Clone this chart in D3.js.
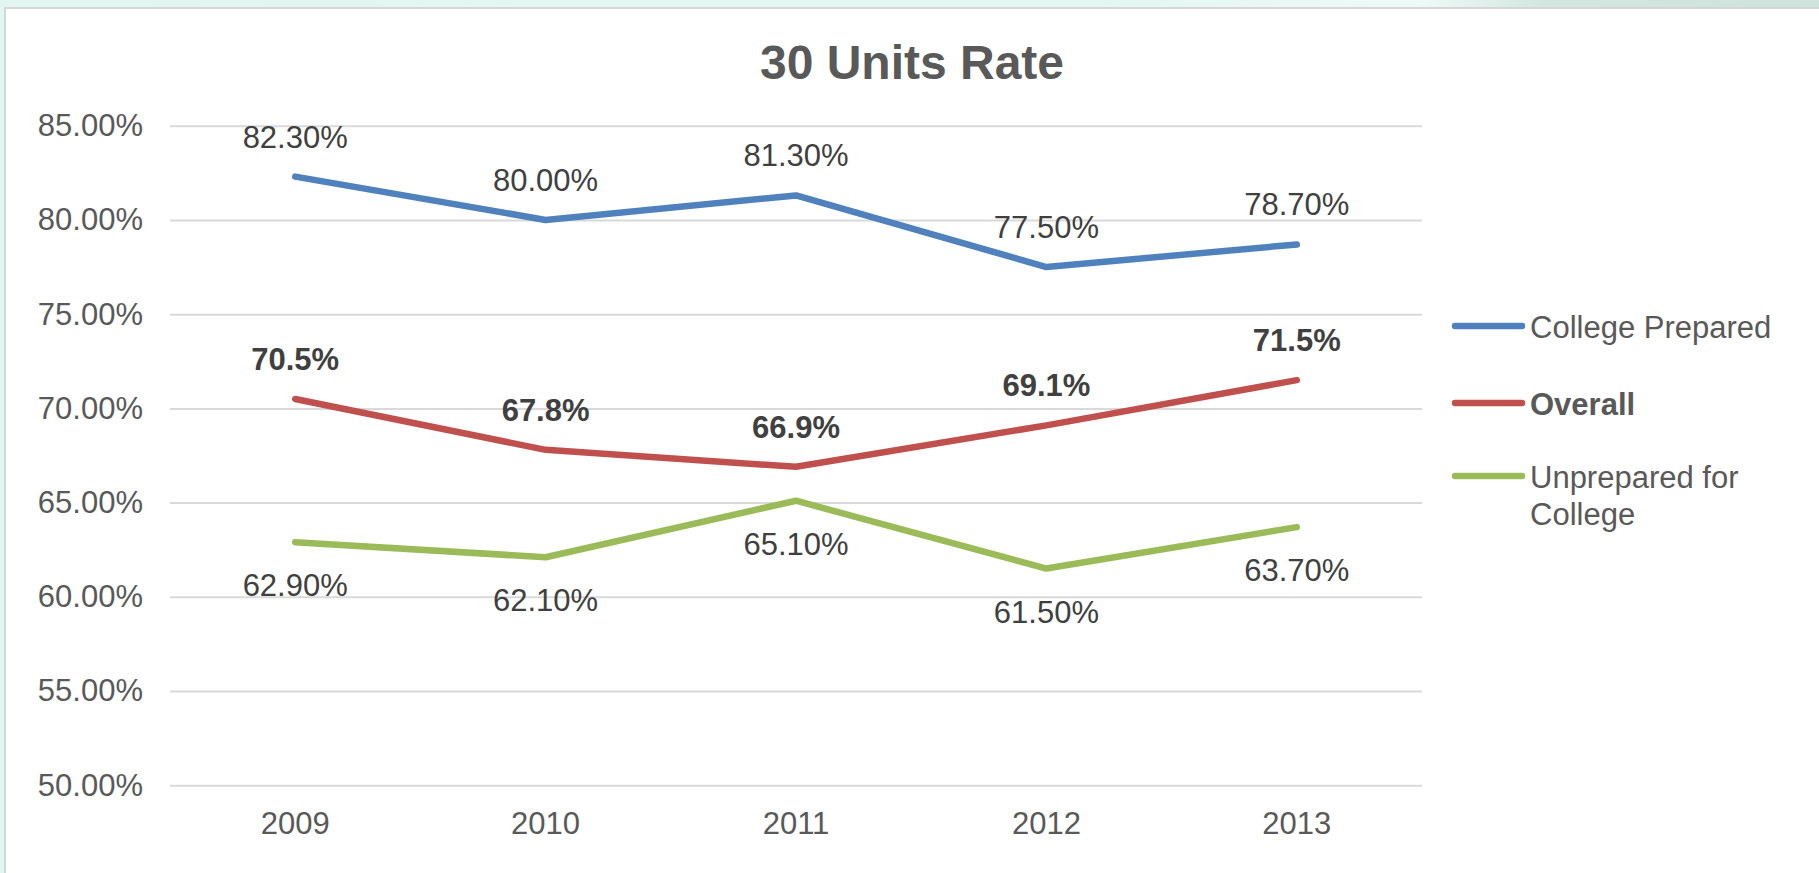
<!DOCTYPE html>
<html><head><meta charset="utf-8">
<script src="https://cdn.jsdelivr.net/npm/d3@7"></script>
<style>html,body{margin:0;padding:0;overflow:hidden;background:#fff}</style>
</head><body><svg id="c" width="1819" height="873"></svg>
<script>
const title = "30 Units Rate";
const years = ["2009", "2010", "2011", "2012", "2013"];
const collegePrepared = [82.3, 80.0, 81.3, 77.5, 78.7];
const overall = [70.5, 67.8, 66.9, 69.1, 71.5];
const unprepared = [62.9, 62.1, 65.1, 61.5, 63.7];
const yTicks = [50, 55, 60, 65, 70, 75, 80, 85];
const seriesNames = ["College Prepared", "Overall", "Unprepared for College"];

const FONT = "'Liberation Sans', Arial, sans-serif";
const W = 1819, H = 873;
const plot = {x0: 170, x1: 1422, y0: 125.7, y1: 785.3};

const svg = d3.select("#c");
const defs = svg.append("defs");
const g1 = defs.append("linearGradient").attr("id", "bg").attr("x1", "0").attr("x2", "1").attr("y1", "0").attr("y2", "0");
g1.append("stop").attr("offset", "0").attr("stop-color", "#e2f6f1");
g1.append("stop").attr("offset", "0.6").attr("stop-color", "#e4f6f1");
g1.append("stop").attr("offset", "0.78").attr("stop-color", "#eefaf7");
g1.append("stop").attr("offset", "0.85").attr("stop-color", "#d3e6e0");
g1.append("stop").attr("offset", "1").attr("stop-color", "#cfe3dd");
svg.append("rect").attr("width", W).attr("height", H).attr("fill", "url(#bg)");
svg.append("rect").attr("x", 5).attr("y", 8).attr("width", W).attr("height", H)
  .attr("fill", "#ffffff").attr("stroke", "#d6d6d6").attr("stroke-width", 2);

const x = d3.scaleBand().domain(years).range([plot.x0, plot.x1]);
const cx = d => x(d) + x.bandwidth() / 2;
const y = d3.scaleLinear().domain([50, 85]).range([plot.y1, plot.y0]);

// gridlines
const grid = svg.append("g").attr("transform", `translate(${plot.x0},0)`)
  .call(d3.axisLeft(y).tickValues(yTicks).tickSize(-(plot.x1 - plot.x0)).tickFormat(""));
grid.select(".domain").remove();
grid.selectAll("line").attr("stroke", "#d9d9d9").attr("stroke-width", 2);

// y axis labels
const ya = svg.append("g").attr("transform", `translate(${plot.x0},0)`)
  .call(d3.axisLeft(y).tickValues(yTicks).tickSize(0).tickPadding(27).tickFormat(d => d.toFixed(2) + "%"));
ya.select(".domain").remove();
ya.selectAll("text").attr("font-family", FONT).attr("font-size", 31).attr("fill", "#595959");

// x axis labels
const xa = svg.append("g").attr("transform", `translate(0,${plot.y1})`)
  .call(d3.axisBottom(x).tickSize(0).tickPadding(27));
xa.select(".domain").remove();
xa.selectAll("text").attr("font-family", FONT).attr("font-size", 31).attr("fill", "#595959");

// title
svg.append("text").attr("x", 912).attr("y", 79).attr("text-anchor", "middle")
  .attr("font-family", FONT).attr("font-size", 48).attr("font-weight", "bold")
  .attr("fill", "#595959").text(title);

const series = [
  {name: seriesNames[0], values: collegePrepared, color: "#4f81bd", fmt: v => v.toFixed(2) + "%", dy: -29, bold: false},
  {name: seriesNames[1], values: overall, color: "#c0504d", fmt: v => v.toFixed(1) + "%", dy: -29, bold: true},
  {name: seriesNames[2], values: unprepared, color: "#9bbb59", fmt: v => v.toFixed(2) + "%", dy: 54, bold: false}
];

const line = d3.line().x((d, i) => cx(years[i])).y(d => y(d));
series.forEach(s => {
  svg.append("path").attr("d", line(s.values)).attr("fill", "none")
    .attr("stroke", s.color).attr("stroke-width", 6.5)
    .attr("stroke-linecap", "round").attr("stroke-linejoin", "round");
});
series.forEach(s => {
  svg.append("g").selectAll("text").data(s.values).join("text")
    .attr("x", (d, i) => cx(years[i])).attr("y", d => y(d) + s.dy)
    .attr("text-anchor", "middle").attr("font-family", FONT).attr("font-size", 31)
    .attr("font-weight", s.bold ? "bold" : "normal").attr("fill", "#404040")
    .text(d => s.fmt(d));
});

// legend
const legY = [326, 403, 476];
const leg = svg.append("g");
series.forEach((s, i) => {
  leg.append("line").attr("x1", 1455).attr("x2", 1522).attr("y1", legY[i]).attr("y2", legY[i])
    .attr("stroke", s.color).attr("stroke-width", 6.5).attr("stroke-linecap", "round");
  const t = leg.append("text").attr("x", 1530).attr("y", legY[i] + 12)
    .attr("font-family", FONT).attr("font-size", 31).attr("fill", "#595959")
    .attr("font-weight", s.bold ? "bold" : "normal");
  const parts = s.name === "Unprepared for College" ? ["Unprepared for", "College"] : [s.name];
  parts.forEach((p, k) => t.append("tspan").attr("x", 1530).attr("dy", k === 0 ? 0 : 37).text(p));
});
</script></body></html>
